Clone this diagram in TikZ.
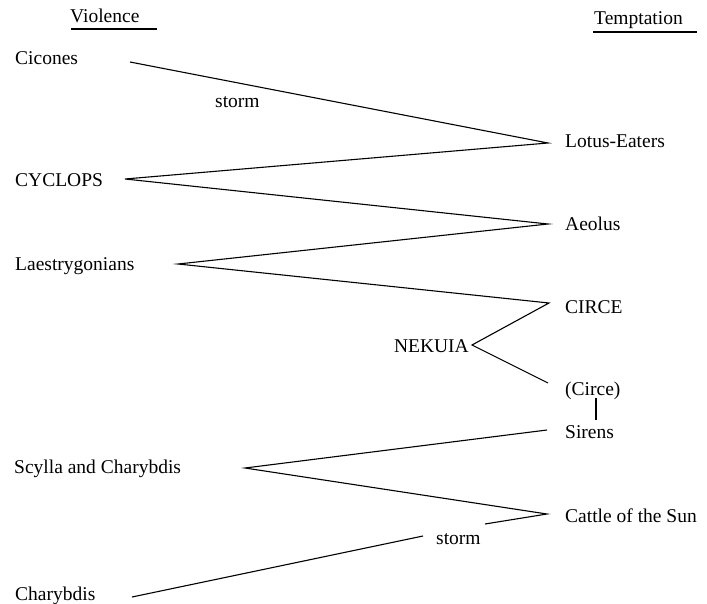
\documentclass[tikz,border=0pt]{standalone}
\usepackage{fontspec}
\setmainfont{Liberation Serif}
\begin{document}
\begin{tikzpicture}[x=1bp,y=-1bp,
  lbl/.style={anchor=base west,inner sep=0pt,font=\fontsize{19.5bp}{22bp}\selectfont},
  lblc/.style={anchor=base,inner sep=0pt,font=\fontsize{19.5bp}{22bp}\selectfont},
  edge/.style={line width=1.1bp,line join=miter},
  uline/.style={line width=1.1bp}]
\useasboundingbox (0,0) rectangle (707,604);
% headers
\node[lbl] (hv) at (70,23) {Violence};
\node[lbl] (ht) at (594,25) {Temptation};
\coordinate (hva) at (71,29); \coordinate (hvb) at (157,29);
\coordinate (hta) at (593,32); \coordinate (htb) at (697,32);
\draw[uline] (hva) -- (hvb);
\draw[uline] (hta) -- (htb);
% left labels
\node[lbl] (cic) at (15,65) {Cicones};
\node[lbl] (cyc) at (15,187) {CYCLOPS};
\node[lbl] (lae) at (15,270) {Laestrygonians};
\node[lbl] (scy) at (14,473) {Scylla and Charybdis};
\node[lbl] (cha) at (15,600) {Charybdis};
% right labels
\node[lbl] (lot) at (565,148) {Lotus-Eaters};
\node[lbl] (aeo) at (565,230) {Aeolus};
\node[lbl] (cir) at (565,313) {CIRCE};
\node[lbl] (cir2) at (565,395) {(Circe)};
\node[lbl] (sir) at (565,438) {Sirens};
\node[lbl] (cat) at (565,522) {Cattle of the Sun};
% middle labels
\node[lbl,anchor=base east] (nek) at (469,352) {NEKUIA};
\node[lbl] (st1) at (215,108) {storm};
\node[lbl] (st2) at (436,544) {storm};
% apex coordinates
\coordinate (pcic) at (130,62);
\coordinate (plot) at (548,143);
\coordinate (pcyc) at (125,179);
\coordinate (paeo) at (548,224);
\coordinate (plae) at (178,264);
\coordinate (pcir) at (549,303);
\coordinate (pnek) at (472,345);
\coordinate (pcir2) at (548,383);
\coordinate (vtop) at (596,398);
\coordinate (vbot) at (596,420);
\coordinate (psir) at (547,430);
\coordinate (pscy) at (245,468);
\coordinate (pcat) at (547,514);
\coordinate (gapb) at (485,524);
\coordinate (gapa) at (423,536);
\coordinate (pcha) at (132,597);
% zigzag
\draw[edge] (pcic) -- (plot) -- (pcyc) -- (paeo) -- (plae) -- (pcir) -- (pnek) -- (pcir2);
\draw[edge] (vtop) -- (vbot);
\draw[edge] (psir) -- (pscy) -- (pcat) -- (gapb);
\draw[edge] (gapa) -- (pcha);
\end{tikzpicture}
\end{document}
